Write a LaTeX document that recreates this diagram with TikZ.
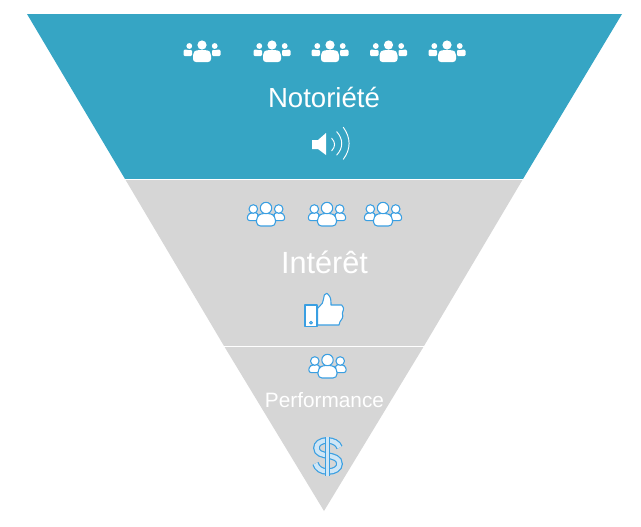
\documentclass[tikz,border=0pt]{standalone}
\usepackage{fontspec}
\setmainfont{Liberation Sans}
\definecolor{funneltop}{HTML}{36A5C4}
\definecolor{funnelgray}{HTML}{D6D6D6}
\definecolor{iconblue}{HTML}{3A9FE2}
\definecolor{dollarcore}{HTML}{CFE6F6}
\tikzset{
  band/.style={draw=white,line width=0.6pt},
  bandlabel/.style={text=white,inner sep=0pt},
  iconline/.style={draw=iconblue,line width=0.8pt,fill=white,line join=round},
  soundwave/.style={draw=white,line width=0.7pt,line cap=round},
  dollarline/.style={draw=iconblue,double=dollarcore,line width=0.9pt},
  solidcrowd/.pic={
    \fill[white] (0,-6) circle (4.6);
    \fill[white] (-12.7,-5) circle (2.9);
    \fill[white] (12.7,-5) circle (2.9);
    \fill[white,rounded corners=2.2pt] (-9,11) -- (-9,1.5) -- (-5.5,-1) -- (5.5,-1) -- (9,1.5) -- (9,11) -- cycle;
    \fill[white,rounded corners=1pt] (-18.5,5.2) -- (-18.5,-1.5) -- (-15.5,-1.5) -- (-12.7,-0.5) -- (-10,-1.5) -- (-10,5.2) -- cycle;
    \fill[white,rounded corners=1pt] (18.5,5.2) -- (18.5,-1.5) -- (15.5,-1.5) -- (12.7,-0.5) -- (10,-1.5) -- (10,5.2) -- cycle;
  },
  linecrowd/.pic={
    \path[iconline,rounded corners=2pt] (-18.7,6.7) -- (-18.7,1) -- (-15,-1.3) -- (-8,-1.3) -- (-8,6.7) -- cycle;
    \path[iconline,rounded corners=2pt] (18.7,6.7) -- (18.7,1) -- (15,-1.3) -- (8,-1.3) -- (8,6.7) -- cycle;
    \path[iconline] (-12.7,-5) circle (4.3);
    \path[iconline] (12.7,-5) circle (4.3);
    \path[iconline,rounded corners=3pt] (-9.5,12) -- (-9.5,2.5) -- (-5,-0.7) -- (5,-0.7) -- (9.5,2.5) -- (9.5,12) -- cycle;
    \path[iconline] (0,-6) circle (5.7);
  }
}

\begin{document}
\begin{tikzpicture}[x=0.75pt,y=-0.75pt]
        \useasboundingbox (0,0) rectangle (641,526);
        % Corners of the three bands, top to bottom.
        \coordinate (tl) at (27,14);
        \coordinate (tr) at (622,14);
        \coordinate (ml) at (125,179);
        \coordinate (mr) at (523,179);
        \coordinate (ll) at (224,346);
        \coordinate (lr) at (424,346);
        \coordinate (apex) at (324,511);
        \fill[funnelgray] (ml) -- (mr) -- (lr) -- (ll) -- cycle;
        \fill[funnelgray] (ll) -- (lr) -- (apex) -- cycle;
        \fill[funneltop] (tl) -- (tr) -- (mr) -- (ml) -- cycle;
        \draw[band] (ml) -- (mr);
        \draw[band] (ll) -- (lr);

        \node[bandlabel,font=\fontsize{20.7pt}{24pt}\selectfont] (notoriete) at (324,97) {Notoriété};
        \node[bandlabel,font=\fontsize{23pt}{27pt}\selectfont] (interet) at (324.5,262) {Intérêt};
        \node[bandlabel,font=\fontsize{15.6pt}{18pt}\selectfont] (performance) at (324.5,400.5) {Performance};

        \pic (crowda) at (202,51) {solidcrowd};
        \pic (crowdb) at (272,51) {solidcrowd};
        \pic (crowdc) at (330,51) {solidcrowd};
        \pic (crowdd) at (388.5,51) {solidcrowd};
        \pic (crowde) at (447,51) {solidcrowd};
        \pic (crowdf) at (266,214) {linecrowd};
        \pic (crowdg) at (327,214) {linecrowd};
        \pic (crowdh) at (383,214) {linecrowd};
        \pic (crowdi) at (327.5,366) {linecrowd};

        % Speaker
        \fill[white] (312,140) -- (318,140) -- (326,133) -- (326,155) -- (318,149) -- (312,149) -- cycle;
        \draw[soundwave] (331.7,138.3) .. controls (335.5,142) and (335.5,147) .. (331.7,150.7);
        \draw[soundwave] (336.7,131.7) .. controls (343.4,139) and (343.4,148) .. (336.7,155);
        \draw[soundwave] (343.3,127.3) .. controls (351,138) and (351,149) .. (343.3,159.3);

        % Thumb
        \path[iconline] (317.7,308.3) -- (322.3,303.3) .. controls (324,298) and (324,296) .. (324.3,295)
          .. controls (326,293) and (328,293) .. (327.7,294) .. controls (331,297) and (331,300) .. (331,305)
          -- (341.7,305) .. controls (344,306) and (344,309) .. (342.3,313.3)
          .. controls (343,315) and (343,317) .. (342.3,318.3) -- (340,321.7) -- (339,325) -- (317.7,325) -- cycle;
        \path[iconline] (305,305) rectangle (317,326.7);
        \path[iconline] (311,322.7) circle (1.4);

        % Dollar
        \draw[dollarline,double distance=3.2pt]
          (339.5,447.5) .. controls (338,443) and (333,440.5) .. (327.5,440.5)
          .. controls (320,440.5) and (316.5,444) .. (316.5,448)
          .. controls (316.5,459) and (339.5,452) .. (339.5,464)
          .. controls (339.5,468.5) and (334.5,471.5) .. (328,471.5)
          .. controls (321,471.5) and (317,468.5) .. (315.5,463.5);
        \draw[dollarline,double distance=1.6pt] (327.5,437) -- (327.5,475.5);
      \end{tikzpicture}
\end{document}
